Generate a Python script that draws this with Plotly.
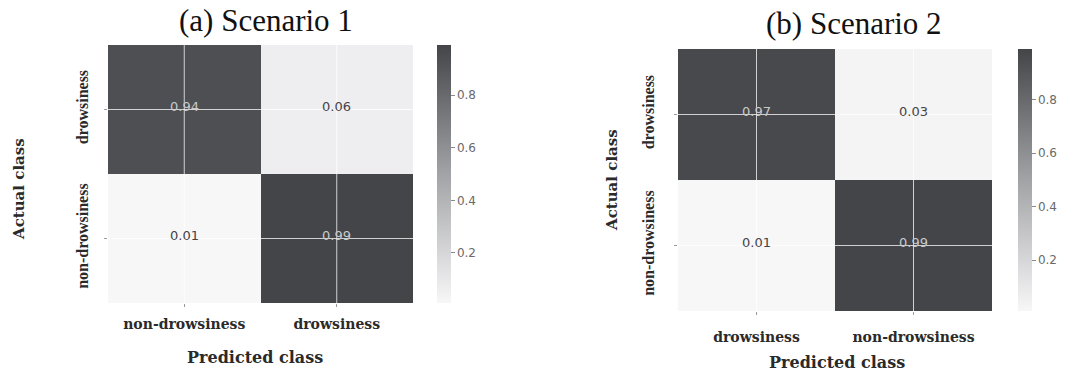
import plotly.graph_objects as go

# Class labels, in the order they appear on each axis
pred_a = ["non-drowsiness", "drowsiness"]
pred_b = ["drowsiness", "non-drowsiness"]
actual = ["drowsiness", "non-drowsiness"]

# Normalised confusion matrices (rows = actual class, columns = predicted class)
cm_a = [[0.94, 0.06],
        [0.01, 0.99]]
cm_b = [[0.97, 0.03],
        [0.01, 0.99]]

titles = ["(a) Scenario 1", "(b) Scenario 2"]
cbar_ticks = [0.2, 0.4, 0.6, 0.8]

W, H = 1071, 373
colorscale = [[0.0, "#f7f7f8"], [0.5, "#a2a3a6"], [1.0, "#434549"]]
zmin, zmax = 0.01, 0.99

SERIF = "Liberation Serif, Times New Roman, serif"
WIDE_SERIF = "DejaVu Serif, serif"
SANS = "DejaVu Sans, Verdana, sans-serif"


def px_x(v):
    return v / W


def py(v):
    return 1 - v / H


panels = [
    dict(x=pred_a, z=cm_a, xa="x", ya="y", dom_x=(108, 413), dom_y=(45, 303),
         cb_x=437, title=titles[0], title_xy=(266, 20),
         xt_xy=(255, 357), yt_xy=(19, 189), xstand=5, ystand=10),
    dict(x=pred_b, z=cm_b, xa="x2", ya="y2", dom_x=(678, 992), dom_y=(49, 311),
         cb_x=1018, title=titles[1], title_xy=(854, 23),
         xt_xy=(837, 362), yt_xy=(612, 180), xstand=10, ystand=14),
]

fig = go.Figure()
annotations = []
shapes = []
layout_axes = {}

for i, p in enumerate(panels):
    top, bot = p["dom_y"]
    fig.add_trace(go.Heatmap(
        x=p["x"], y=actual, z=p["z"], xaxis=p["xa"], yaxis=p["ya"],
        colorscale=colorscale, zmin=zmin, zmax=zmax, hoverinfo="z",
        colorbar=dict(
            x=px_x(p["cb_x"]), xanchor="left", thickness=14,
            lenmode="fraction", len=(bot - top) / H,
            y=py(top), yanchor="top", ypad=0, xpad=0, outlinewidth=0,
            tickvals=cbar_ticks, ticktext=[f"{t:.1f}" for t in cbar_ticks],
            ticks="outside", ticklen=4, tickcolor="#8a8a8a", tickwidth=1,
            tickfont=dict(family=SANS, size=12, color="#6a6a6a"),
        ),
    ))

    sfx = "" if i == 0 else "2"
    layout_axes[f"xaxis{sfx}"] = dict(
        domain=[px_x(p["dom_x"][0]), px_x(p["dom_x"][1])],
        anchor=p["ya"], type="category", showgrid=False, zeroline=False,
        showline=False, ticks="outside", ticklen=3, tickcolor="#9a9a9a",
        ticklabelstandoff=p["xstand"],
        tickfont=dict(family=WIDE_SERIF, size=14, color="#2a2a2a", weight="bold"),
    )
    layout_axes[f"yaxis{sfx}"] = dict(
        domain=[py(bot), py(top)],
        anchor=p["xa"], type="category", autorange="reversed",
        showgrid=False, zeroline=False, showline=False,
        ticks="outside", ticklen=3, tickcolor="#9a9a9a", tickangle=-90,
        ticklabelstandoff=p["ystand"],
        tickfont=dict(family=SERIF, size=16, color="#2a2a2a", weight="bold"),
    )

    # white grid lines through the cell centres
    for c in p["x"]:
        shapes.append(dict(type="line", xref=p["xa"], yref=f"{p['ya']} domain",
                           x0=c, x1=c, y0=0, y1=1, layer="above",
                           line=dict(color="rgba(255,255,255,0.75)", width=1)))
    for r in actual:
        shapes.append(dict(type="line", xref=f"{p['xa']} domain", yref=p["ya"],
                           x0=0, x1=1, y0=r, y1=r, layer="above",
                           line=dict(color="rgba(255,255,255,0.75)", width=1)))

    # cell values
    for ri, r in enumerate(actual):
        for ci, c in enumerate(p["x"]):
            v = p["z"][ri][ci]
            annotations.append(dict(
                x=c, y=r, xref=p["xa"], yref=p["ya"], text=f"{v:.2f}",
                showarrow=False, yshift=3,
                font=dict(family=SANS, size=13,
                          color="#c9c9cb" if v > 0.5 else "#444448"),
            ))

    # panel title and axis titles
    tx, ty = p["title_xy"]
    annotations.append(dict(x=px_x(tx), y=py(ty), xref="paper", yref="paper",
                            text=p["title"], showarrow=False,
                            xanchor="center", yanchor="middle",
                            font=dict(family=SERIF, size=31, color="#111111")))
    ax_, ay_ = p["xt_xy"]
    annotations.append(dict(x=px_x(ax_), y=py(ay_), xref="paper", yref="paper",
                            text="Predicted class", showarrow=False,
                            xanchor="center", yanchor="middle",
                            font=dict(family=WIDE_SERIF, size=16, color="#2a2a2a",
                                      weight="bold")))
    bx, by = p["yt_xy"]
    annotations.append(dict(x=px_x(bx), y=py(by), xref="paper", yref="paper",
                            text="Actual class", showarrow=False, textangle=-90,
                            xanchor="center", yanchor="middle",
                            font=dict(family=WIDE_SERIF, size=15, color="#2a2a2a",
                                      weight="bold")))

fig.update_layout(
    width=W, height=H,
    margin=dict(l=0, r=0, t=0, b=0),
    paper_bgcolor="white", plot_bgcolor="white",
    annotations=annotations, shapes=shapes,
    **layout_axes,
)

fig.write_html("out.html")
